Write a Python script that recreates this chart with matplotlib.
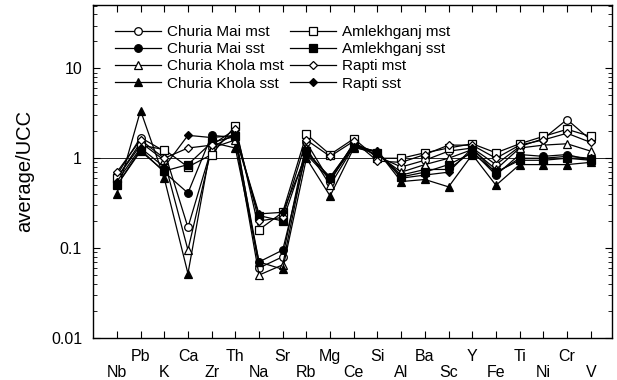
import matplotlib
matplotlib.use("Agg")
import matplotlib.pyplot as plt
import numpy as np

plt.rcParams['font.family'] = ['Liberation Sans', 'DejaVu Sans']

elements = ["Nb", "Pb", "K", "Ca", "Zr", "Th", "Na", "Sr", "Rb", "Mg", "Ce",
            "Si", "Al", "Ba", "Sc", "Y", "Fe", "Ti", "Ni", "Cr", "V"]

churia_mai_mst = [0.65, 1.7, 1.2, 0.17, 1.3, 1.9, 0.06, 0.08, 1.5, 0.55, 1.5,
                  1.05, 0.8, 0.95, 1.2, 1.3, 0.85, 1.35, 1.65, 2.7, 1.6]
churia_mai_sst = [0.5, 1.25, 0.7, 0.41, 1.8, 1.7, 0.07, 0.095, 1.15, 0.62, 1.4,
                  1.15, 0.65, 0.75, 0.75, 1.2, 0.65, 1.1, 1.05, 1.1, 0.95]
churia_khola_mst = [0.6, 1.5, 0.95, 0.095, 1.3, 1.6, 0.05, 0.065, 1.3, 0.5, 1.35,
                    1.1, 0.7, 0.85, 1.0, 1.25, 0.75, 1.3, 1.4, 1.45, 1.2]
churia_khola_sst = [0.4, 3.4, 0.6, 0.052, 1.5, 1.3, 0.07, 0.058, 1.0, 0.38, 1.3,
                    1.2, 0.55, 0.58, 0.48, 1.1, 0.5, 0.85, 0.85, 0.85, 0.9]
amlekhganj_mst = [0.6, 1.4, 1.25, 0.8, 1.1, 2.3, 0.16, 0.25, 1.85, 1.1, 1.65,
                  1.0, 1.0, 1.15, 1.3, 1.45, 1.15, 1.45, 1.75, 2.1, 1.75]
amlekhganj_sst = [0.5, 1.2, 0.72, 0.85, 1.5, 1.75, 0.23, 0.2, 1.2, 0.6, 1.45,
                  1.15, 0.62, 0.7, 0.85, 1.15, 0.7, 0.95, 0.95, 1.0, 0.95]
rapti_mst = [0.7, 1.6, 1.0, 1.3, 1.4, 2.1, 0.2, 0.22, 1.6, 1.05, 1.55,
             0.93, 0.9, 1.1, 1.4, 1.4, 1.0, 1.4, 1.6, 1.9, 1.5]
rapti_sst = [0.55, 1.3, 0.8, 1.8, 1.7, 1.8, 0.24, 0.25, 1.1, 0.58, 1.35,
             1.2, 0.6, 0.65, 0.7, 1.3, 0.68, 1.0, 1.0, 1.05, 1.0]

series = [
    ("Churia Mai mst", churia_mai_mst, 'o', 'white'),
    ("Churia Mai sst", churia_mai_sst, 'o', 'black'),
    ("Churia Khola mst", churia_khola_mst, '^', 'white'),
    ("Churia Khola sst", churia_khola_sst, '^', 'black'),
    ("Amlekhganj mst", amlekhganj_mst, 's', 'white'),
    ("Amlekhganj sst", amlekhganj_sst, 's', 'black'),
    ("Rapti mst", rapti_mst, 'D', 'white'),
    ("Rapti sst", rapti_sst, 'D', 'black'),
]

fig = plt.figure(figsize=(6.17, 3.80), dpi=100)
ax = fig.add_axes([0.151, 0.111, 0.841, 0.876])

x = np.arange(1, len(elements) + 1)
ax.axhline(1.0, color='black', lw=0.6, zorder=1)

for name, vals, m, fc in series:
    ms = 5.5 if m != 'D' else 4.5
    ax.plot(x, vals, color='black', lw=0.9, marker=m, markersize=ms,
            markerfacecolor=fc, markeredgecolor='black', markeredgewidth=0.9,
            label=name, zorder=3)

ax.set_yscale('log')
ax.set_ylim(0.01, 51)
ax.set_xlim(0, 21.9)
ax.set_yticks([0.01, 0.1, 1, 10])
ax.set_yticklabels(["0.01", "0.1", "1", "10"])
ax.set_xticks(x)
labels = [e if i % 2 == 1 else "\n" + e for i, e in enumerate(elements)]
ax.set_xticklabels(labels, linespacing=1.05)
ax.tick_params(axis='both', which='both', direction='in', top=True, right=True,
               labelsize=11.5)
ax.tick_params(axis='both', which='major', length=5, width=0.8)
ax.tick_params(axis='both', which='minor', length=3, width=0.6)
ax.tick_params(axis='x', pad=8)
ax.tick_params(axis='y', pad=8)
ax.set_ylabel("average/UCC", fontsize=14.5, labelpad=12)

for s in ax.spines.values():
    s.set_linewidth(1.0)

leg = ax.legend(loc='upper left', ncol=2, frameon=False, fontsize=11,
                handlelength=3.0, handletextpad=0.4, columnspacing=0.45,
                labelspacing=0.2, bbox_to_anchor=(0.015, 0.98))

fig.savefig("out.png", dpi=100)
